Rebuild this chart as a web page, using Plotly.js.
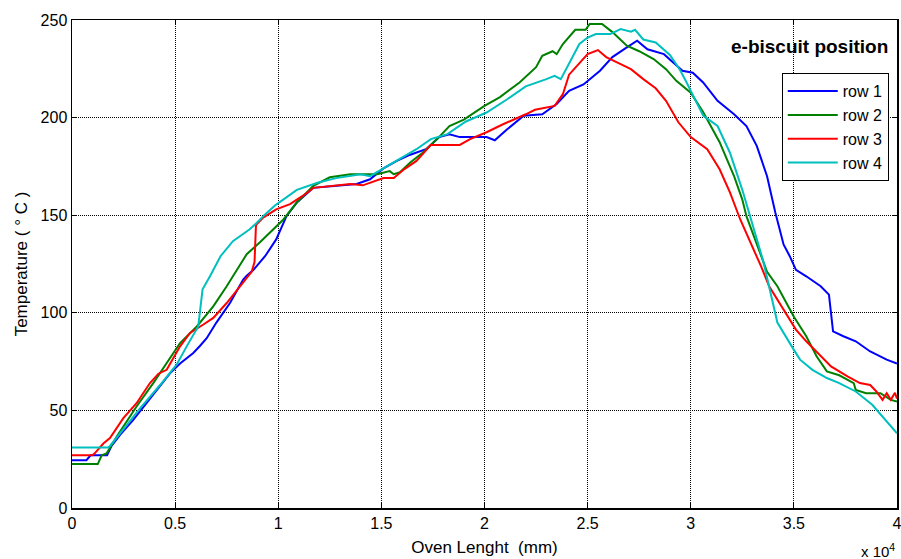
<!DOCTYPE html>
<html>
<head>
<meta charset="utf-8">
<script src="https://cdn.plot.ly/plotly-3.0.1.min.js"></script>
<style>html,body{margin:0;padding:0;background:#fff;}#chart{width:901px;height:559px;}</style>
</head>
<body>
<div id="chart"></div>
<script>
// Oven length in units of 10^4 mm, temperature in °C
const row1X = [0,0.07,0.09,0.17,0.19,0.233,0.296,0.362,0.427,0.475,0.524,0.588,0.62,0.653,0.70,0.766,0.83,0.847,0.88,0.936,0.99,1.04,1.09,1.17,1.27,1.38,1.445,1.51,1.575,1.64,1.72,1.78,1.83,1.88,2.01,2.05,2.11,2.19,2.28,2.35,2.41,2.48,2.56,2.62,2.69,2.74,2.79,2.82,2.87,2.96,3.01,3.06,3.13,3.21,3.27,3.32,3.37,3.41,3.45,3.48,3.51,3.56,3.63,3.67,3.69,3.74,3.80,3.87,3.95,4.0];
const row1Y = [24.5,24.5,27,27,31.5,37.5,45,53.7,62.3,69,74,79.4,83,87,95,105,117,119,122,129,137.6,149.5,156.5,164,165,166,168.4,174,177.8,181,184,190,191.5,190,190,188.4,194,201,201.7,207,213.7,217,224,231,236,239.4,235,234,232.5,224,223,218,208.6,201.7,195.7,185.5,170,151.4,135,129,122,118.7,113.6,109.3,90.5,88,85.4,80.2,76,74];

const row2X = [0,0.125,0.144,0.168,0.217,0.313,0.394,0.459,0.524,0.605,0.685,0.75,0.80,0.847,0.91,0.96,1.025,1.09,1.17,1.25,1.35,1.48,1.54,1.56,1.59,1.64,1.70,1.77,1.83,1.90,1.96,2.0,2.075,2.17,2.25,2.28,2.33,2.35,2.38,2.44,2.49,2.51,2.57,2.62,2.69,2.75,2.82,2.88,2.93,3.0,3.06,3.14,3.21,3.25,3.27,3.30,3.32,3.37,3.42,3.50,3.56,3.61,3.66,3.72,3.79,3.80,3.85,3.92,3.97,4.0];
const row2Y = [22.5,22.5,27,28,36.6,52,64,74,84.5,93,103.3,113.6,122,130,136,141,147.8,156.5,165,169.4,171,171,172.6,171,172,177,182,189,195.7,199,203,206,210.5,218,225.8,231.7,234,232.5,237.7,245,245,248,248,243.8,236.8,234,230,224.8,218.8,212.8,202.8,187.4,170,158,149.5,141,135,121,113.6,98,88,77.7,70,68,64,60.5,58.8,58.8,55.4,54.5];

const row3X = [0,0.10,0.11,0.152,0.184,0.249,0.313,0.378,0.419,0.459,0.524,0.572,0.637,0.685,0.75,0.815,0.871,0.885,0.892,0.927,0.99,1.057,1.12,1.17,1.27,1.35,1.41,1.51,1.56,1.61,1.67,1.74,1.88,1.93,2.01,2.09,2.2,2.245,2.34,2.38,2.41,2.46,2.50,2.55,2.59,2.66,2.71,2.77,2.83,2.88,2.94,3.0,3.08,3.14,3.19,3.24,3.29,3.34,3.38,3.44,3.51,3.56,3.68,3.76,3.82,3.87,3.90,3.93,3.95,3.97,3.99,4.0];
const row3Y = [27,27,28,33,35.8,46,53.7,64,68.8,70.8,82.8,89.7,94,97.4,105,113.6,121,126,145,148.8,153,155.7,160,164,165,166,165.3,169,169,173.5,177.8,186,186,189,192.5,196.6,201.7,204,206,212,222,228,232.5,234.6,231,227.4,224.8,219.7,215,208.6,197.6,190,183.8,173.5,161.7,147.8,136,124,113.6,103.3,91.4,85.4,72.5,67.4,64,63,59.7,55.4,58.8,55.4,59,56];

const row4X = [0,0.175,0.184,0.233,0.33,0.427,0.475,0.507,0.556,0.612,0.633,0.669,0.72,0.78,0.86,0.895,0.936,0.984,1.024,1.09,1.19,1.28,1.40,1.445,1.51,1.59,1.67,1.74,1.82,1.91,2.01,2.11,2.2,2.3,2.34,2.37,2.41,2.46,2.50,2.54,2.61,2.66,2.71,2.73,2.77,2.83,2.9,2.95,2.98,3.06,3.13,3.19,3.25,3.30,3.32,3.35,3.37,3.42,3.50,3.53,3.59,3.66,3.72,3.80,3.88,3.93,4.0];
const row4Y = [31,31,31.8,38.3,51,63,69,73.4,82.8,93,112,118.7,129,136.7,142.7,146,150.4,155,158,163,166.6,169,171,170,174,179,183.8,189,191.5,198,202.6,209.4,216,219.7,221.4,219.7,227.4,237.7,241,242.8,242.8,245.4,244,245,240,238.5,232,224,218,201,195.7,182,163,145,139,127,118,95,81,76,70.8,66.6,64,59.7,52.9,46.9,38.3];

const seriesNames = ["row 1","row 2","row 3","row 4"];
const seriesColors = ["#0000ff","#008000","#ff0000","#00bfbf"];
const xTicks = [0,0.5,1,1.5,2,2.5,3,3.5,4];
const xTickText = ["0","0.5","1","1.5","2","2.5","3","3.5","4"];
const yTicks = [0,50,100,150,200,250];

const xs = [row1X,row2X,row3X,row4X];
const ys = [row1Y,row2Y,row3Y,row4Y];
const traces = seriesNames.map((n,i)=>({
  x: xs[i], y: ys[i], name: n, type: 'scatter', mode: 'lines',
  line: {color: seriesColors[i], width: 2}
}));

const F = 'Arial, "Liberation Sans", sans-serif';
const axisCommon = {
  showline: true, linecolor: '#000', linewidth: 1.5, mirror: 'ticks',
  ticks: 'inside', ticklen: 5, tickcolor: '#000',
  showgrid: true, gridcolor: '#000', griddash: '1px,1px', gridwidth: 1,
  zeroline: false, tickfont: {family: F, size: 16, color: '#000'},
  ticklabeloverflow: 'allow'
};
const layout = {
  width: 901, height: 559,
  margin: {l: 72, r: 4, t: 20, b: 51},
  paper_bgcolor: '#fff', plot_bgcolor: '#fff',
  font: {family: F, color: '#000'},
  xaxis: Object.assign({}, axisCommon, {
    range: [0, 4], tickvals: xTicks, ticktext: xTickText,
    title: {text: 'Oven Lenght  (mm)', font: {family: F, size: 17, color: '#000'}, standoff: 10}
  }),
  yaxis: Object.assign({}, axisCommon, {
    range: [0, 250], tickvals: yTicks,
    title: {text: 'Temperature ( ° C )', font: {family: F, size: 17, color: '#000'}, standoff: 8}
  }),
  showlegend: true,
  legend: {
    x: 0.990, y: 0.891, xanchor: 'right', yanchor: 'top',
    bgcolor: '#fff', bordercolor: '#000', borderwidth: 1,
    itemwidth: 50,
    font: {family: F, size: 16, color: '#000'}
  },
  annotations: [
    {xref: 'paper', yref: 'paper', x: 0.992, y: 0.945, xanchor: 'right', yanchor: 'middle',
     text: '<b>e-biscuit position</b>', showarrow: false, font: {family: F, size: 19, color: '#000'}},
    {xref: 'paper', yref: 'paper', x: 1.0, y: -0.088, xanchor: 'right', yanchor: 'middle',
     text: 'x 10<sup>4</sup>', showarrow: false, font: {family: F, size: 15, color: '#000'}}
  ]
};
Plotly.newPlot('chart', traces, layout, {displayModeBar: false, staticPlot: true});
</script>
</body>
</html>
